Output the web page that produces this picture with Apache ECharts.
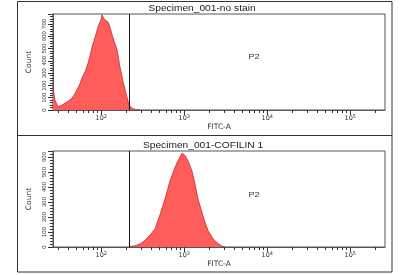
<!DOCTYPE html>
<html><head><meta charset="utf-8">
<script src="https://cdn.jsdelivr.net/npm/echarts@6/dist/echarts.min.js"></script>
<style>html,body{margin:0;padding:0;background:#fff}#c{width:400px;height:275px}</style>
</head><body><div id="c"></div>
<script>
// Panel 1: Specimen_001-no stain (FITC-A value, count)
const fitc1 = [26.2, 27.7, 30.1, 33.7, 38.7, 44.4, 48.3, 52.5, 55.5, 58.6, 63.7, 69.2, 73.2, 77.3, 84.1, 91.4, 100, 102, 108, 114, 120.6, 127, 138, 155, 168, 183, 204, 216, 235, 255, 293];
const count1 = [180, 80, 25, 40, 65, 95, 135, 180, 215, 260, 310, 380, 440, 510, 590, 675, 740, 775, 740, 755, 715, 675, 590, 490, 350, 230, 105, 40, 15, 5, 0];
// Panel 2: Specimen_001-COFILIN 1
const fitc2 = [222, 255, 293, 337, 387, 444, 510, 586, 673, 773, 840, 889, 940, 1021, 1110, 1240, 1347, 1464, 1635, 1778, 1932, 2158, 2345, 2620, 2849, 3096];
const count2 = [3, 8, 20, 45, 80, 120, 215, 320, 440, 530, 575, 600, 625, 610, 575, 505, 420, 320, 230, 165, 110, 65, 40, 18, 6, 0];
const titles = ['Specimen_001-no stain', 'Specimen_001-COFILIN 1'];
const gateLabel = 'P2';
const gateValue = 216;
const xName = 'FITC-A';
const yName = 'Count';
const xMin = 26.2144, xMax = 262144;
const yMax = [781, 640];
const majorTicks = [100, 1000, 10000, 100000];
const minorTicks = [30, 40, 50, 60, 70, 80, 90, 200, 300, 400, 500, 600, 700, 800, 900,
  2000, 3000, 4000, 5000, 6000, 7000, 8000, 9000, 20000, 30000, 40000, 50000, 60000, 70000, 80000, 90000, 200000];

const chart = echarts.init(document.getElementById('c'), null, {renderer: 'canvas'});
const FONT = 'Liberation Sans';
const WIDE = 'DejaVu Sans';
const tops = [14, 151];
const grids = tops.map(t => ({left: 53, top: t, width: 332, height: 96, show: true, borderColor: '#555', borderWidth: 1, backgroundColor: '#fff'}));
const xAxes = [], yAxes = [], series = [];
[0, 1].forEach(i => {
  xAxes.push({
    type: 'log', logBase: 10, gridIndex: i, min: xMin, max: xMax,
    name: xName, nameLocation: 'middle', nameGap: 13,
    nameTextStyle: {fontFamily: WIDE, fontSize: 7.5, color: '#333'},
    axisLine: {show: true, lineStyle: {color: '#555', width: 1}},
    axisTick: {show: true, length: 5, customValues: majorTicks, lineStyle: {color: '#333'}},
    splitLine: {show: false},
    axisLabel: {
      customValues: majorTicks, margin: 4, color: '#333', fontFamily: FONT,
      formatter: v => '{b|10}{s|' + Math.round(Math.log10(v)) + '}',
      rich: {b: {fontSize: 6.5, fontFamily: WIDE, color: '#333'}, s: {fontSize: 5, fontFamily: WIDE, color: '#333', verticalAlign: 'top', padding: [0, 0, 3, 0]}}
    }
  });
  xAxes.push({
    type: 'log', logBase: 10, gridIndex: i, min: xMin, max: xMax, position: 'bottom',
    axisLine: {show: false},
    axisTick: {show: true, length: 3, customValues: minorTicks, lineStyle: {color: '#333'}},
    axisLabel: {show: false}, splitLine: {show: false}
  });
  yAxes.push({
    type: 'value', gridIndex: i, min: 0, max: yMax[i], interval: 100,
    name: yName, nameLocation: 'middle', nameGap: 18, nameRotate: 90,
    nameTextStyle: {fontFamily: WIDE, fontSize: 7.5, color: '#333'},
    axisLine: {show: true, lineStyle: {color: '#555'}},
    axisTick: {show: true, length: 5, lineStyle: {color: '#333'}},
    minorTick: {show: true, splitNumber: 5, length: 3, lineStyle: {color: '#333'}},
    splitLine: {show: false},
    axisLabel: {rotate: 90, fontSize: 6, fontFamily: FONT, color: '#333', margin: 6, showMaxLabel: false}
  });
  const xs = i === 0 ? fitc1 : fitc2;
  const cs = i === 0 ? count1 : count2;
  series.push({
    type: 'line', xAxisIndex: i * 2, yAxisIndex: i,
    data: xs.map((x, k) => [x, cs[k]]),
    showSymbol: false, symbol: 'none', smooth: false,
    lineStyle: {color: '#c8262a', width: 0.8},
    areaStyle: {color: '#ff5c5c', opacity: 1},
    z: 2,
    markLine: {
      silent: true, symbol: 'none', label: {show: false},
      lineStyle: {color: '#111', width: 1, type: 'solid'},
      data: [{xAxis: gateValue}]
    }
  });
});

const graphic = [
  {type: 'rect', shape: {x: 17.5, y: 1.5, width: 374.5, height: 270.5}, style: {fill: null, stroke: '#333', lineWidth: 1}, z: 100},
  {type: 'line', shape: {x1: 17.5, y1: 135.5, x2: 392, y2: 135.5}, style: {stroke: '#333', lineWidth: 1}, z: 100},
  {type: 'group', children: [
    {type: 'text', x: 202, y: 9, scaleX: 1.2, style: {text: titles[0], font: '8.5px "Liberation Sans"', fill: '#222', align: 'center', verticalAlign: 'middle'}},
    {type: 'text', x: 203, y: 146, scaleX: 1.2, style: {text: titles[1], font: '8.5px "Liberation Sans"', fill: '#222', align: 'center', verticalAlign: 'middle'}},
    {type: 'text', x: 254, y: 57, scaleX: 1.3, style: {text: gateLabel, font: '7px "Liberation Sans"', fill: '#333', align: 'center', verticalAlign: 'middle'}},
    {type: 'text', x: 254, y: 195, scaleX: 1.3, style: {text: gateLabel, font: '7px "Liberation Sans"', fill: '#333', align: 'center', verticalAlign: 'middle'}}
  ], z: 100}
];

chart.setOption({
  animation: false,
  backgroundColor: '#fff',
  grid: grids,
  xAxis: xAxes,
  yAxis: yAxes,
  series: series,
  graphic: graphic
});
</script></body></html>
